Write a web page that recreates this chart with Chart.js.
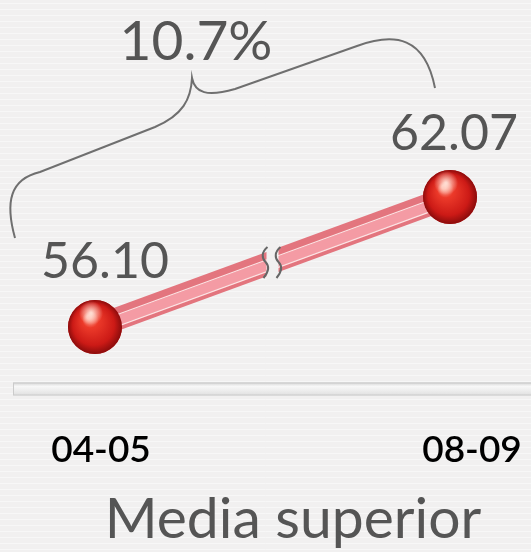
<!DOCTYPE html>
<html><head><meta charset="utf-8">
<script src="https://cdn.jsdelivr.net/npm/chart.js@4/dist/chart.umd.min.js"></script>
<style>
html,body{margin:0;padding:0;background:#f2f1f1;}
#wrap{width:531px;height:552px;position:relative;}
</style></head>
<body><div id="wrap"><canvas id="c" width="531" height="552"></canvas></div>
<script>
const categories = ['04-05', '08-09'];
const values = [56.10, 62.07];
const changeLabel = '10.7%';
const title = 'Media superior';

const FONT = 'Lato, "Open Sans", sans-serif';

const deco = {
  id: 'deco',
  beforeDraw(chart) {
    const c = chart.ctx, a = chart.chartArea;
    c.save();
    c.fillStyle = '#f1f0f0';
    c.fillRect(0, 0, chart.width, chart.height);
    c.strokeStyle = 'rgba(255,255,255,0.45)';
    c.lineWidth = 1;
    for (let y = 3; y < chart.height; y += 6) {
      c.beginPath(); c.moveTo(0, y + 0.5); c.lineTo(chart.width, y + 0.5); c.stroke();
    }
    const yb = a.bottom - 12;
    const g = c.createLinearGradient(0, yb, 0, yb + 13);
    g.addColorStop(0, '#d4d4d4'); g.addColorStop(0.3, '#f8f8f8'); g.addColorStop(1, '#e0e0e0');
    c.fillStyle = g;
    c.fillRect(13, yb, chart.width - 13, 13);
    c.strokeStyle = '#cbcbcb';
    c.strokeRect(13.5, yb + 0.5, chart.width - 13, 12);
    c.restore();
  },
  afterDatasetsDraw(chart) {
    const c = chart.ctx;
    const meta = chart.getDatasetMeta(0);
    const p0 = meta.data[0], p1 = meta.data[1];
    c.save();
    const dx = p1.x - p0.x, dy = p1.y - p0.y, L = Math.hypot(dx, dy);
    const nx = -dy / L, ny = dx / L;
    // inner lighter band
    c.strokeStyle = 'rgba(245,160,168,0.9)';
    c.lineWidth = 10;
    c.beginPath();
    c.moveTo(p0.x + nx * 1.5, p0.y + ny * 1.5);
    c.lineTo(p1.x + nx * 1.5, p1.y + ny * 1.5);
    c.stroke();
    c.strokeStyle = 'rgba(255,238,238,0.9)';
    c.lineWidth = 1.2;
    [-4, 7].forEach(o => {
      c.beginPath();
      c.moveTo(p0.x + nx * o, p0.y + ny * o);
      c.lineTo(p1.x + nx * o, p1.y + ny * o);
      c.stroke();
    });
    // break marks
    const mx = (p0.x + p1.x) / 2, my = (p0.y + p1.y) / 2;
    c.fillStyle = '#f1f0f0';
    c.beginPath();
    c.moveTo(mx - 6, my - 20); c.lineTo(mx + 6, my - 20); c.lineTo(mx + 6, my + 20); c.lineTo(mx - 6, my + 20);
    c.closePath(); c.fill();
    c.strokeStyle = '#666';
    c.lineWidth = 2;
    [-7, 6].forEach(o => {
      const x = mx + o;
      c.beginPath();
      c.moveTo(x + 2, my - 15);
      c.bezierCurveTo(x - 4, my - 10, x - 4, my - 4, x, my);
      c.bezierCurveTo(x + 4, my + 4, x + 3, my + 10, x - 2, my + 16);
      c.stroke();
    });
    // spheres
    meta.data.forEach(p => {
      const r = 27;
      const g = c.createRadialGradient(p.x - 6, p.y - 10, 2, p.x, p.y, r);
      g.addColorStop(0, '#ffb0a0');
      g.addColorStop(0.25, '#ec3a2a');
      g.addColorStop(0.75, '#cc1a16');
      g.addColorStop(1, '#8a0c0c');
      c.fillStyle = g;
      c.beginPath(); c.arc(p.x, p.y, r, 0, Math.PI * 2); c.fill();
      const h = c.createRadialGradient(p.x - 4, p.y - 14, 1, p.x - 4, p.y - 14, 12);
      h.addColorStop(0, 'rgba(255,230,220,0.9)');
      h.addColorStop(1, 'rgba(255,230,220,0)');
      c.fillStyle = h;
      c.beginPath(); c.arc(p.x, p.y, r, 0, Math.PI * 2); c.fill();
    });
    // brace
    c.strokeStyle = '#6f6f6f';
    c.lineWidth = 2;
    c.beginPath();
    const bx = p0.x, by = p0.y;
    c.moveTo(bx - 80, by - 89);
    c.bezierCurveTo(bx - 90, by - 125, bx - 85, by - 148, bx - 55, by - 155);
    c.lineTo(bx + 60, by - 200);
    c.bezierCurveTo(bx + 88, by - 212, bx + 96, by - 228, bx + 97, by - 249);
    c.bezierCurveTo(bx + 100, by - 234, bx + 112, by - 230, bx + 140, by - 238);
    c.lineTo(bx + 262, by - 281);
    c.bezierCurveTo(bx + 300, by - 295, bx + 330, by - 290, bx + 340, by - 239);
    c.stroke();
    // value labels
    c.fillStyle = '#555';
    c.font = '50px ' + FONT;
    c.textAlign = 'center';
    c.textBaseline = 'alphabetic';
    c.fillText(values[0].toFixed(2), p0.x + 10, p0.y - 49);
    c.fillText(values[1].toFixed(2), p1.x + 4, p1.y - 47);
    c.font = '55px ' + FONT;
    c.fillText(changeLabel, bx + 101, by - 267);
    // category labels
    c.fillStyle = '#000';
    c.font = '600 37px ' + FONT;
    c.fillText(categories[0], p0.x + 6, 462);
    c.fillText(categories[1], p1.x + 22, 462);
    // title
    c.fillStyle = '#555';
    c.font = '57px ' + FONT;
    c.fillText(title, 293, 538);
    c.restore();
  }
};

new Chart(document.getElementById('c'), {
  type: 'line',
  data: {
    labels: categories,
    datasets: [{
      data: values,
      borderColor: '#e3757e',
      borderWidth: 23,
      borderCapStyle: 'butt',
      pointRadius: 27,
      pointBackgroundColor: '#d42020',
      pointBorderWidth: 0,
      tension: 0
    }]
  },
  options: {
    responsive: false,
    animation: false,
    layout: { padding: { left: 95, right: 81, top: 155, bottom: 157.5 } },
    plugins: { legend: { display: false }, tooltip: { enabled: false } },
    scales: {
      x: { type: 'category', display: false, offset: false },
      y: { display: false, min: 53, max: 64 }
    }
  },
  plugins: [deco]
});
</script></body></html>
